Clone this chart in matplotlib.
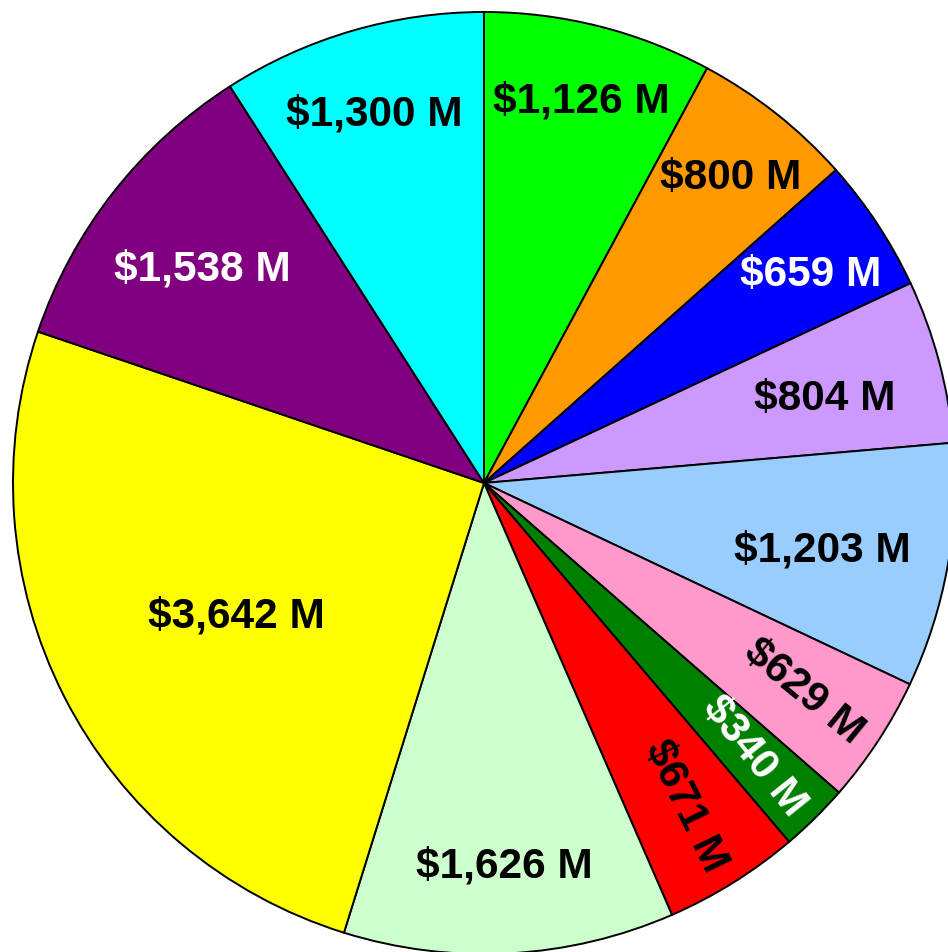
import numpy as np
import matplotlib
matplotlib.use("Agg")
import matplotlib.pyplot as plt

# slice values (millions), clockwise from 12 o'clock
values = [1126, 800, 659, 804, 1203, 629, 340, 671, 1626, 3642, 1538, 1300]
labels = ["$%s M" % format(v, ",") for v in values]
colors = ["#00FF00", "#FF9900", "#0000FF", "#CC99FF", "#99CCFF", "#FF99CC",
          "#008000", "#FF0000", "#CCFFCC", "#FFFF00", "#800080", "#00FFFF"]
text_colors = ["black", "black", "white", "black", "black", "black",
               "white", "black", "black", "black", "white", "black"]
# label placement (fraction of radius) and whether text runs along the radius
label_r = [0.85, 0.845, 0.83, 0.75, 0.73, 0.81, 0.815, 0.81, 0.80, 0.59, 0.76, 0.83]
radial = [False, False, False, False, False, True, True, True, False, False, False, False]

W, H = 948, 952
cx, cy, R = 484, 483, 471

fig = plt.figure(figsize=(W / 100, H / 100), dpi=100)
ax = fig.add_axes([0, 0, 1, 1])

wedges, _ = ax.pie(values, colors=colors, startangle=90, counterclock=False,
                   radius=1.0, wedgeprops=dict(edgecolor="black", linewidth=1.4))
for w in wedges:
    w.set_clip_on(False)

ax.set_aspect("auto")
ax.set_xlim(-cx / R, (W - cx) / R)
ax.set_ylim(-(H - cy) / R, cy / R)
ax.axis("off")

total = float(sum(values))
cum = 0.0
for v, lab, tc, r, rad in zip(values, labels, text_colors, label_r, radial):
    mid = (cum + v / 2.0) / total * 360.0
    cum += v
    ang = np.deg2rad(90.0 - mid)
    x, y = r * np.cos(ang), r * np.sin(ang)
    if rad:
        rot = np.rad2deg(ang) - 6
    else:
        rot = 0
        y -= 0.015
    ax.text(x, y, lab, ha="center", va="center", rotation=rot,
            rotation_mode="anchor", color=tc, fontsize=30.5, fontweight="bold",
            family=["Liberation Sans", "DejaVu Sans"])

fig.savefig("out.png", dpi=100)
